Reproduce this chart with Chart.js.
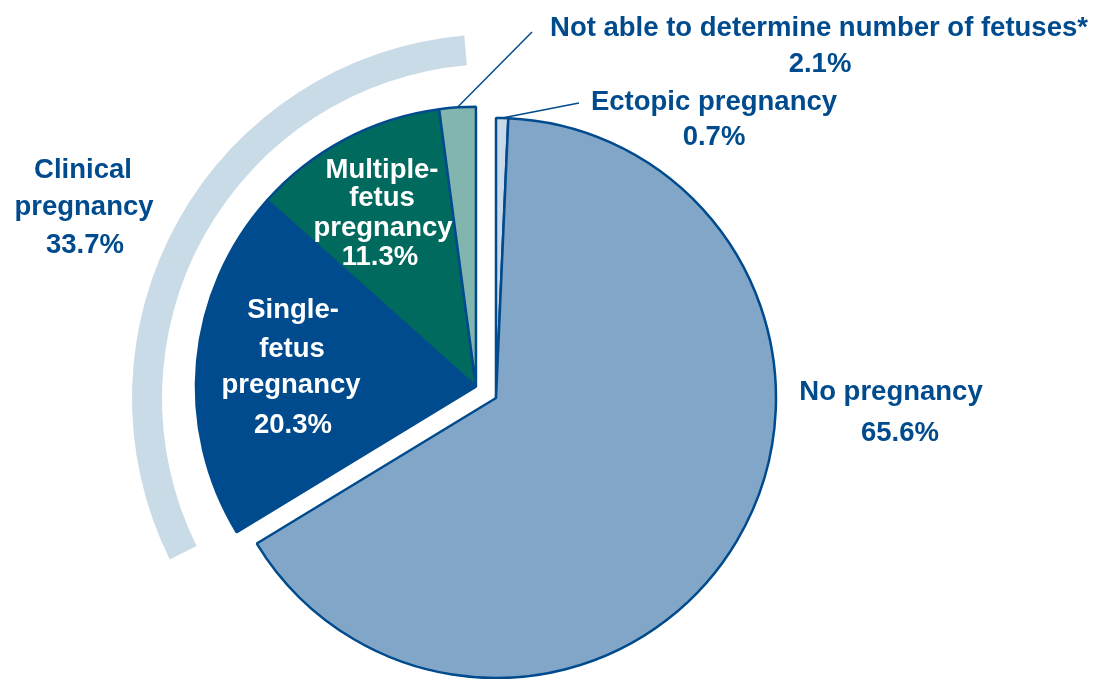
<!DOCTYPE html>
<html>
<head>
<meta charset="utf-8">
<script src="https://cdn.jsdelivr.net/npm/chart.js@4.4.1/dist/chart.umd.min.js"></script>
<style>
html,body{margin:0;padding:0;background:#ffffff;overflow:hidden;}
#box{position:relative;width:1096px;height:679px;}
</style>
</head>
<body>
<div id="box"><canvas id="chart" width="1096" height="679"></canvas></div>
<script>
// ---------------- data ----------------
const categories = ['Ectopic pregnancy', 'No pregnancy', 'Single-fetus pregnancy', 'Multiple-fetus pregnancy', 'Not able to determine number of fetuses*'];
const sharePercent = [0.7, 65.6, 20.3, 11.3, 2.1];
const groupNames = ['Ectopic pregnancy', 'No pregnancy', 'Clinical pregnancy'];
const groupPercent = [0.7, 65.6, 33.7];
const clinicalMembers = [2, 3, 4];

// ---------------- style ----------------
const DARK = '#004b8d';
const sliceColors = ['#c8d9e9', '#81a6c8', '#004b8d', '#006a5e', '#82b5ae'];
const bracketColors = ['rgba(0,0,0,0)', 'rgba(0,0,0,0)', '#cadbe8'];
const TRANSPARENT = 'rgba(0,0,0,0)';
const EXPLODE_PX = 23;
const BRACKET_INSET_DEG = 5;
const FONT = 'bold 27.5px "Liberation Sans", Arial, Helvetica, sans-serif';
const fmt = v => v.toFixed(1) + '%';

// label layout (positions are presentation only)
const labelLayout = [
  {lines: [['Not able to determine number of fetuses*', 819, 36], [fmt(sharePercent[4]), 820, 72]], color: DARK},
  {lines: [['Ectopic pregnancy', 714, 110], [fmt(sharePercent[0]), 714, 145]], color: DARK},
  {lines: [['No pregnancy', 891, 400], [fmt(sharePercent[1]), 900, 441]], color: DARK},
  {lines: [['Clinical', 83, 178], ['pregnancy', 84, 215], [fmt(groupPercent[2]), 85, 253]], color: DARK},
  {lines: [['Single-', 293, 318], ['fetus', 292, 357], ['pregnancy', 291, 393], [fmt(sharePercent[2]), 293, 433]], color: '#ffffff'},
  {lines: [['Multiple-', 382, 178], ['fetus', 382, 206], ['pregnancy', 383, 236], [fmt(sharePercent[3]), 380, 265]], color: '#ffffff'}
];
// leader lines: slice index -> label end point
const leaders = [
  {slice: 4, to: [532, 32]},
  {slice: 0, to: [579, 103]}
];

function shiftOf(chart) {
  const pie = chart.getDatasetMeta(2).data;
  const a0 = pie[clinicalMembers[0]].startAngle;
  const a1 = pie[clinicalMembers[clinicalMembers.length - 1]].endAngle;
  const mid = (a0 + a1) / 2;
  return {dx: Math.cos(mid) * EXPLODE_PX, dy: Math.sin(mid) * EXPLODE_PX};
}

const explodePlugin = {
  id: 'explodeGroup',
  beforeDatasetsDraw(chart) {
    const s = shiftOf(chart);
    chart.$shift = s;
    const pie = chart.getDatasetMeta(2).data;
    clinicalMembers.forEach(i => {
      const el = pie[i];
      if (el.$wrapped) return;
      const orig = el.draw;
      el.draw = function (ctx, area) {
        ctx.save();
        ctx.translate(chart.$shift.dx, chart.$shift.dy);
        orig.call(this, ctx, area);
        ctx.restore();
      };
      el.$wrapped = true;
    });
    const br = chart.getDatasetMeta(0).data[2];
    if (!br.$wrapped) {
      const orig = br.draw;
      const inset = BRACKET_INSET_DEG * Math.PI / 180;
      br.draw = function (ctx, area) {
        const s0 = this.startAngle, e0 = this.endAngle;
        this.startAngle = s0 + inset;
        this.endAngle = e0 - inset;
        orig.call(this, ctx, area);
        this.startAngle = s0;
        this.endAngle = e0;
      };
      br.$wrapped = true;
    }
  },
  afterDatasetsDraw(chart) {
    const ctx = chart.ctx;
    const pie = chart.getDatasetMeta(2).data;
    const s = chart.$shift || {dx: 0, dy: 0};
    ctx.save();
    ctx.strokeStyle = DARK;
    ctx.lineWidth = 1.5;
    leaders.forEach(l => {
      const el = pie[l.slice];
      const mid = (el.startAngle + el.endAngle) / 2;
      let x = el.x + Math.cos(mid) * el.outerRadius;
      let y = el.y + Math.sin(mid) * el.outerRadius;
      if (clinicalMembers.includes(l.slice)) { x += s.dx; y += s.dy; }
      ctx.beginPath();
      ctx.moveTo(x, y);
      ctx.lineTo(l.to[0], l.to[1]);
      ctx.stroke();
    });
    ctx.font = FONT;
    ctx.textAlign = 'center';
    ctx.textBaseline = 'alphabetic';
    labelLayout.forEach(lb => {
      ctx.fillStyle = lb.color;
      lb.lines.forEach(([t, x, y]) => ctx.fillText(t, x, y));
    });
    ctx.restore();
  }
};

new Chart(document.getElementById('chart'), {
  type: 'pie',
  data: {
    labels: categories,
    datasets: [
      {label: 'Group', data: groupPercent, backgroundColor: bracketColors, borderWidth: 0, hoverBorderWidth: 0, weight: 30, clip: false},
      {label: 'Spacer', data: sharePercent, backgroundColor: TRANSPARENT, borderWidth: 0, hoverBorderWidth: 0, weight: 54, clip: false},
      {label: 'Outcome', data: sharePercent, backgroundColor: sliceColors, borderColor: DARK, borderWidth: 2.5, hoverBorderWidth: 2.5, weight: 280, clip: false}
    ]
  },
  options: {
    responsive: false,
    animation: false,
    events: [],
    radius: 364,
    hoverOffset: 0,
    layout: {padding: {top: 117, right: 104, left: 0, bottom: 0}},
    plugins: {legend: {display: false}, tooltip: {enabled: false}, title: {display: false}}
  },
  plugins: [explodePlugin]
});
</script>
</body>
</html>
